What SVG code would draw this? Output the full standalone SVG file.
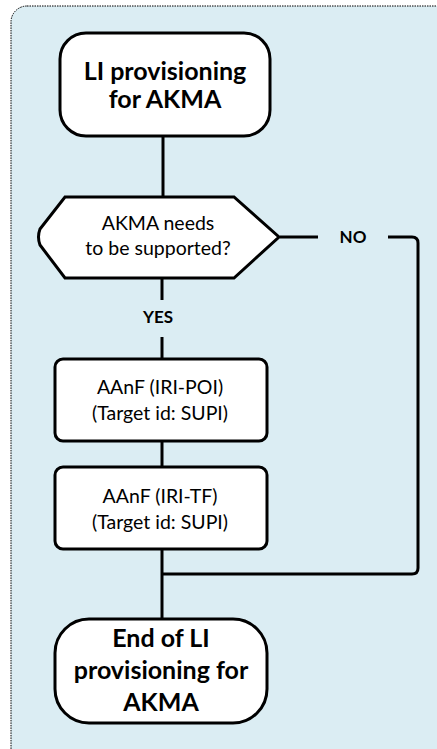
<svg xmlns="http://www.w3.org/2000/svg" width="437" height="749" viewBox="0 0 437 749">
<style>
.node{fill:#fff;stroke:#000;stroke-width:3}
.conn{fill:none;stroke:#000;stroke-width:3}
.t{font-family:Lato,"Liberation Sans",sans-serif;text-anchor:middle;fill:#000}
.b{font-weight:bold;font-size:25px}
.r{font-size:19.5px}
.lbl{font-weight:bold;font-size:17px}
</style>
<rect x="11" y="6" width="450" height="760" rx="16" fill="#DBEDF3" stroke="#000" stroke-width="1" stroke-dasharray="1.5,1"/>
<g id="connectors">
<line class="conn" x1="163" y1="136" x2="163" y2="197"/>
<line class="conn" x1="162" y1="278" x2="162" y2="300"/>
<line class="conn" x1="162" y1="337" x2="162" y2="359"/>
<line class="conn" x1="162" y1="441" x2="162" y2="467"/>
<line class="conn" x1="162" y1="549" x2="162" y2="619"/>
<line class="conn" x1="280" y1="237" x2="318" y2="237"/>
<path class="conn" d="M388 237 H412 Q418 237 418 243 V568 Q418 574 412 574 H162"/>
<text class="t lbl" x="353" y="243">NO</text>
<text class="t lbl" x="158" y="323">YES</text>
</g>
<g id="start">
<rect class="node" x="60" y="33" width="210" height="103" rx="26"/>
<text class="t b" x="165" y="80">LI provisioning</text>
<text class="t b" x="165" y="108">for AKMA</text>
</g>
<g id="decision">
<path class="node" d="M65 197 H234 L279 237 L234 278 H65 L40 245 Q37 237 40 229 Z"/>
<text class="t r" x="158" y="230">AKMA needs</text>
<text class="t r" x="158" y="255">to be supported?</text>
</g>
<g id="poi">
<rect class="node" x="55" y="359" width="212" height="82" rx="8"/>
<text class="t r" x="160" y="394">AAnF (IRI-POI)</text>
<text class="t r" x="160" y="420">(Target id: SUPI)</text>
</g>
<g id="tf">
<rect class="node" x="55" y="467" width="212" height="82" rx="8"/>
<text class="t r" x="160" y="503">AAnF (IRI-TF)</text>
<text class="t r" x="160" y="529">(Target id: SUPI)</text>
</g>
<g id="end">
<rect class="node" x="55" y="619" width="212" height="104" rx="34"/>
<text class="t b" x="161" y="647">End of LI</text>
<text class="t b" x="161" y="679">provisioning for</text>
<text class="t b" x="161" y="711">AKMA</text>
</g>
</svg>
